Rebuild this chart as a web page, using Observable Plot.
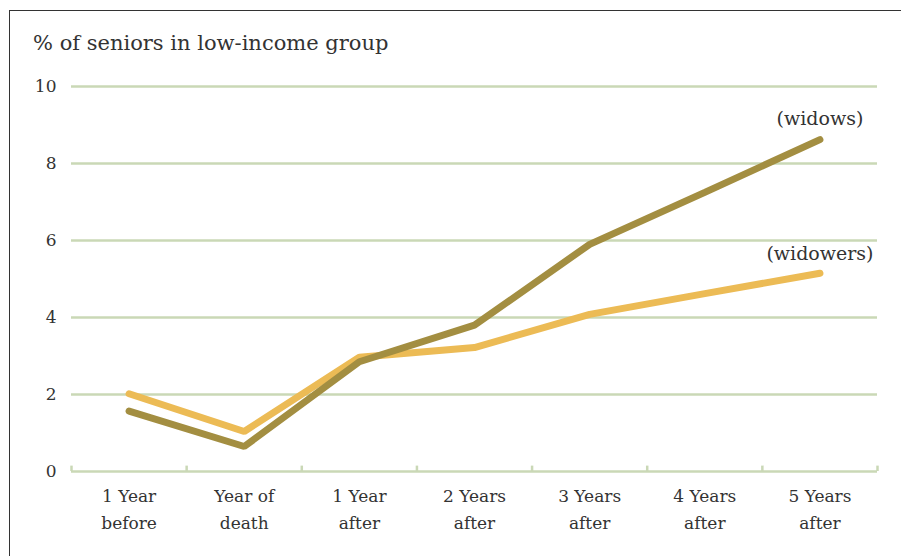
<!DOCTYPE html>
<html>
<head>
<meta charset="utf-8">
<script src="https://cdn.jsdelivr.net/npm/d3@7"></script>
<script src="https://cdn.jsdelivr.net/npm/@observablehq/plot@0.6"></script>
<style>
  html, body { margin: 0; padding: 0; background: #fff; }
  #wrap { position: relative; width: 901px; height: 556px; overflow: hidden; font-family: "DejaVu Serif", serif; }
  #frame { position: absolute; left: 9px; top: 10px; width: 900px; height: 560px; border-left: 1.5px solid #333; border-top: 1.5px solid #333; box-sizing: border-box; pointer-events: none; }
  #title { position: absolute; left: 33px; top: 31px; font-size: 21px; color: #333; white-space: nowrap; }
  #chart { position: absolute; left: 0; top: 70px; }
</style>
</head>
<body>
<div id="wrap">
  <div id="title">% of seniors in low-income group</div>
  <div id="chart"></div>
  <div id="frame"></div>
</div>
<script>
const categories = ["1 Year\nbefore", "Year of\ndeath", "1 Year\nafter", "2 Years\nafter", "3 Years\nafter", "4 Years\nafter", "5 Years\nafter"];
const widows   = [1.57, 0.65, 2.85, 3.80, 5.90, 7.25, 8.62];
const widowers = [2.02, 1.04, 2.97, 3.22, 4.08, 4.62, 5.15];
const yTicks = [0, 2, 4, 6, 8, 10];
const seriesNames = ["(widows)", "(widowers)"];

const rows = [];
categories.forEach((c, i) => {
  rows.push({series: seriesNames[0], i: i + 0.5, v: widows[i]});
  rows.push({series: seriesNames[1], i: i + 0.5, v: widowers[i]});
});
const last = i => rows.filter(r => r.series === seriesNames[i] && r.i === categories.length - 0.5);

const colors = {"(widows)": "#a38e41", "(widowers)": "#ecbb55"};

const plot = Plot.plot({
  width: 901,
  height: 486,
  marginLeft: 71,
  marginRight: 24,
  marginTop: 16,
  marginBottom: 85,
  style: {fontFamily: "DejaVu Serif, serif", fontSize: "17px", color: "#333", background: "transparent"},
  x: {domain: [0, categories.length]},
  y: {domain: [0, 10]},
  marks: [
    Plot.ruleY(yTicks, {stroke: "#cad8b6", strokeWidth: 2.5}),
    Plot.ruleX(d3.range(categories.length + 1), {y1: 0, y2: 0.14, stroke: "#cad8b6", strokeWidth: 2.5}),
    Plot.axisY({ticks: yTicks, tickSize: 0, tickPadding: 15, label: null, fontSize: 17, fill: "#333"}),
    Plot.axisX({ticks: d3.range(categories.length).map(i => i + 0.5), tickFormat: d => categories[Math.floor(d)], tickSize: 0, tickPadding: 11, label: null, fontSize: 17, lineHeight: 1.6, fill: "#333"}),
    Plot.line(rows.filter(r => r.series === seriesNames[1]), {x: "i", y: "v", stroke: colors["(widowers)"], strokeWidth: 7, strokeLinecap: "round", strokeLinejoin: "miter"}),
    Plot.line(rows.filter(r => r.series === seriesNames[0]), {x: "i", y: "v", stroke: colors["(widows)"], strokeWidth: 7, strokeLinecap: "round", strokeLinejoin: "miter"}),
    Plot.text(last(0), {x: "i", y: "v", text: "series", dy: -21, fontSize: 19, fill: "#333"}),
    Plot.text(last(1), {x: "i", y: "v", text: "series", dy: -19, fontSize: 19, fill: "#333"})
  ]
});
document.getElementById("chart").appendChild(plot);
</script>
</body>
</html>
